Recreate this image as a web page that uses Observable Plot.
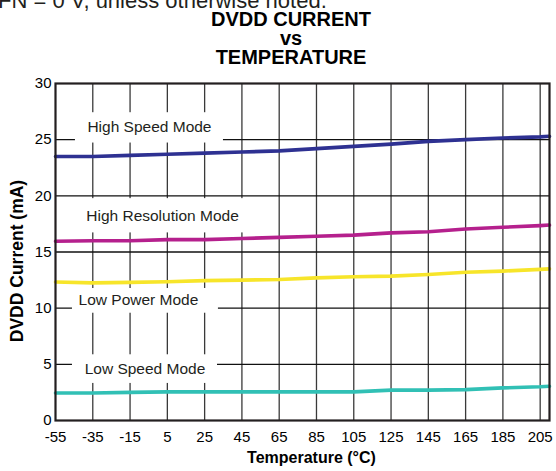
<!DOCTYPE html>
<html>
<head>
<meta charset="utf-8">
<script src="https://cdn.jsdelivr.net/npm/d3@7"></script>
<script src="https://cdn.jsdelivr.net/npm/@observablehq/plot@0.6"></script>
<style>
  html, body { margin: 0; padding: 0; background: #fff; }
  #wrap { position: relative; width: 556px; height: 471px; overflow: hidden; background: #fff; }
  #wrap svg { position: absolute; left: 0; top: 0; }
  .note { position: absolute; left: -2px; top: -10px; font: 22px/22px "Liberation Sans", Arial, sans-serif; color: #231f20; white-space: nowrap; }
  .title { position: absolute; left: 141px; width: 300px; top: 10px; text-align: center; font: bold 20px/19px "Liberation Sans", Arial, sans-serif; color: #000; }
</style>
</head>
<body>
<div id="wrap">
  <div class="note">FN = 0 V, unless otherwise noted.</div>
  <div class="title">DVDD CURRENT<br>vs<br>TEMPERATURE</div>
</div>
<script>
// Temperature samples (°C)
const temps = [-55, -35, -15, 5, 25, 45, 65, 85, 105, 125, 145, 165, 185, 205, 210];
// DVDD current (mA) per mode
const highSpeed = [23.5, 23.5, 23.6, 23.7, 23.8, 23.9, 24.0, 24.2, 24.4, 24.6, 24.85, 25.0, 25.15, 25.25, 25.3];
const highRes   = [15.96, 16.0, 16.0, 16.1, 16.1, 16.2, 16.3, 16.4, 16.5, 16.7, 16.8, 17.05, 17.2, 17.35, 17.4];
const lowPower  = [12.33, 12.25, 12.3, 12.35, 12.45, 12.5, 12.55, 12.7, 12.8, 12.85, 13.0, 13.2, 13.3, 13.45, 13.5];
const lowSpeed  = [2.45, 2.45, 2.5, 2.55, 2.55, 2.55, 2.55, 2.55, 2.55, 2.7, 2.7, 2.75, 2.9, 3.0, 3.05];

const seriesNames = ["High Speed Mode", "High Resolution Mode", "Low Power Mode", "Low Speed Mode"];
const seriesColors = ["#2e3192", "#b5208d", "#f7e52a", "#31c0b5"];

const xTicks = [-55, -35, -15, 5, 25, 45, 65, 85, 105, 125, 145, 165, 185, 205];
const yTicks = [0, 5, 10, 15, 20, 25, 30];

// In-plot labels (data units: °C, mA)
const labelText = ["High Speed Mode", "High Resolution Mode", "Low Power Mode", "Low Speed Mode"];
const labelX  = [-4.6, 2.4, -10.5, -7.0];
const labelY  = [26.1, 18.2, 10.7, 4.55];
const labelX1 = [-44.3, -45.3, -45.9, -45.9];
const labelX2 = [35.1, 50.1, 32.4, 31.9];
const labelY1 = [24.7, 16.7, 9.55, 3.3];
const labelY2 = [27.4, 19.75, 11.75, 5.85];

const seriesValues = [highSpeed, highRes, lowPower, lowSpeed];
const rows = seriesNames.flatMap((name, s) =>
  temps.map((t, i) => ({series: name, temp: t, value: seriesValues[s][i]}))
);
const labelIdx = labelText.map((_, i) => i);

const chart = Plot.plot({
  width: 556,
  height: 471,
  marginLeft: 55,
  marginRight: 7,
  marginTop: 83,
  marginBottom: 51,
  style: {fontFamily: "'Liberation Sans', Arial, sans-serif", fontSize: "15px", color: "#000", background: "transparent", overflow: "visible"},
  x: {domain: [-55, 210], ticks: xTicks, tickSize: 0, tickPadding: 11, tickFormat: d => String(d), label: null},
  y: {domain: [0, 30], ticks: yTicks, tickSize: 0, tickPadding: 4, tickFormat: d => String(d), label: null},
  color: {domain: seriesNames, range: seriesColors},
  marks: [
    Plot.ruleX(xTicks.slice(1), {stroke: "#3a3a3a", strokeWidth: 1.3}),
    Plot.ruleY(yTicks.slice(1, -1), {stroke: "#111", strokeWidth: 1.4}),
    Plot.rect(labelIdx, {x1: i => labelX1[i], x2: i => labelX2[i], y1: i => labelY1[i], y2: i => labelY2[i], fill: "white"}),
    Plot.text(labelIdx, {x: i => labelX[i], y: i => labelY[i], text: i => labelText[i], fontSize: 15.5, fill: "#231f20"}),
    Plot.line(rows, {x: "temp", y: "value", z: "series", stroke: "series", strokeWidth: 3.6}),
    Plot.frame({stroke: "#231f20", strokeWidth: 2.2}),
    Plot.text(["Temperature (°C)"], {frameAnchor: "bottom", textAnchor: "middle", lineAnchor: "middle", dx: 9, dy: 37, fontWeight: "bold", fontSize: 16, fill: "#000"}),
    Plot.text(["DVDD Current (mA)"], {frameAnchor: "left", textAnchor: "middle", lineAnchor: "middle", rotate: -90, dx: -38, dy: 9, fontWeight: "bold", fontSize: 17.5, fill: "#000"})
  ]
});
document.getElementById("wrap").prepend(chart);
</script>
</body>
</html>
